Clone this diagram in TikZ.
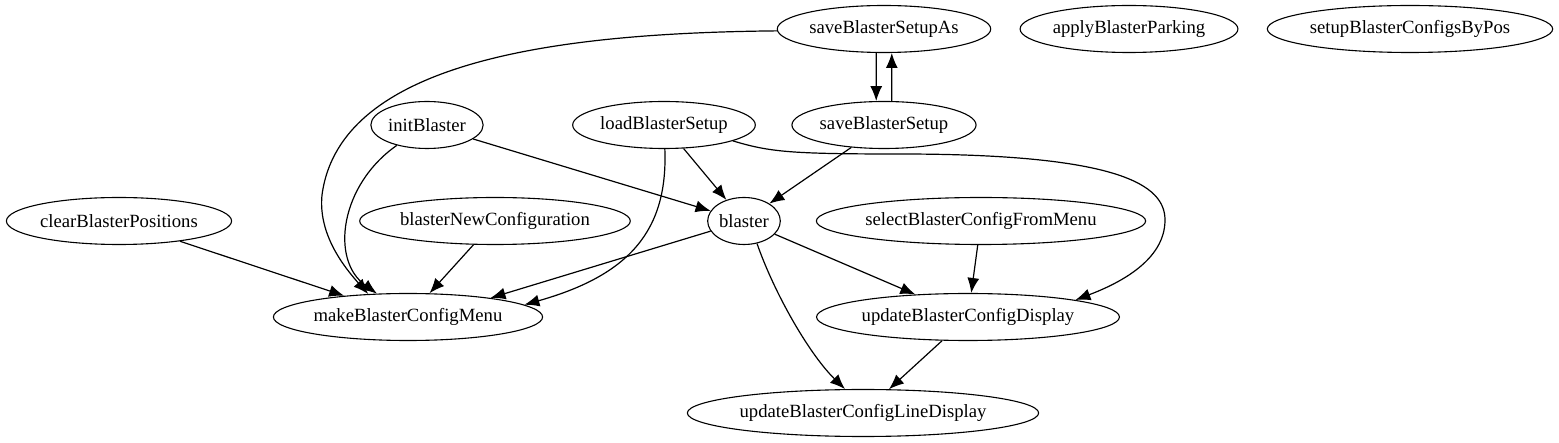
\documentclass[tikz,border=0pt]{standalone}
\usepackage{fontspec}
\setmainfont{Liberation Serif}
\usetikzlibrary{arrows.meta,shapes.geometric}

\begin{document}
\begin{tikzpicture}[x=1pt, y=-1pt,
        fn/.style={ellipse, draw, line width=1.1pt, inner xsep=0.8pt, inner ysep=0pt, minimum height=47pt, font=\fontsize{18.67}{22}\selectfont},
        call/.style={-{Latex[length=15pt,width=12pt]}, line width=1.2pt}]
        \useasboundingbox (0,0) rectangle (1559,443);

        \node[fn] (sbsa) at (884, 29) {saveBlasterSetupAs};
        \node[fn] (abp) at (1129, 29) {applyBlasterParking};
        \node[fn] (sbcbp) at (1410, 29) {setupBlasterConfigsByPos};
        \node[fn] (init) at (427, 125) {initBlaster};
        \node[fn] (lbs) at (664, 125) {loadBlasterSetup};
        \node[fn] (sbs) at (884, 125) {saveBlasterSetup};
        \node[fn] (cbp) at (119, 221) {clearBlasterPositions};
        \node[fn] (bnc) at (495, 221) {blasterNewConfiguration};
        \node[fn] (blaster) at (744, 221) {blaster};
        \node[fn] (sbcfm) at (981, 221) {selectBlasterConfigFromMenu};
        \node[fn] (mbcm) at (408, 317) {makeBlasterConfigMenu};
        \node[fn] (ubcd) at (968, 317) {updateBlasterConfigDisplay};
        \node[fn] (ubcld) at (863, 413) {updateBlasterConfigLineDisplay};

        \draw[call] (sbsa.181) .. controls (560, 33) and (340, 60) .. (322, 195) .. controls (318, 235) and (345, 268) .. (mbcm.150);
        \draw[call] (sbsa.252) -- (sbs.108);
        \draw[call] (sbs.72) -- (sbsa.288);
        \draw[call] (init.214) .. controls (340, 185) and (330, 260) .. (mbcm.143);
        \draw[call] (init) -- (blaster);
        \draw[call] (lbs) -- (blaster);
        \draw[call] (lbs.272) .. controls (668, 230) and (630, 275) .. (mbcm.6);
        \draw[call] (lbs.347) .. controls (770, 152) and (790, 154) .. (900, 154) .. controls (1120, 154) and (1165, 185) .. (1165, 220) .. controls (1165, 260) and (1120, 283) .. (ubcd.9);
        \draw[call] (sbs) -- (blaster);
        \draw[call] (cbp) -- (mbcm);
        \draw[call] (bnc) -- (mbcm);
        \draw[call] (blaster) -- (mbcm.13);
        \draw[call] (blaster) -- (ubcd);
        \draw[call] (blaster.300) .. controls (775, 295) and (810, 355) .. (ubcld.127);
        \draw[call] (sbcfm) -- (ubcd);
        \draw[call] (ubcd) -- (ubcld);
    \end{tikzpicture}
\end{document}
